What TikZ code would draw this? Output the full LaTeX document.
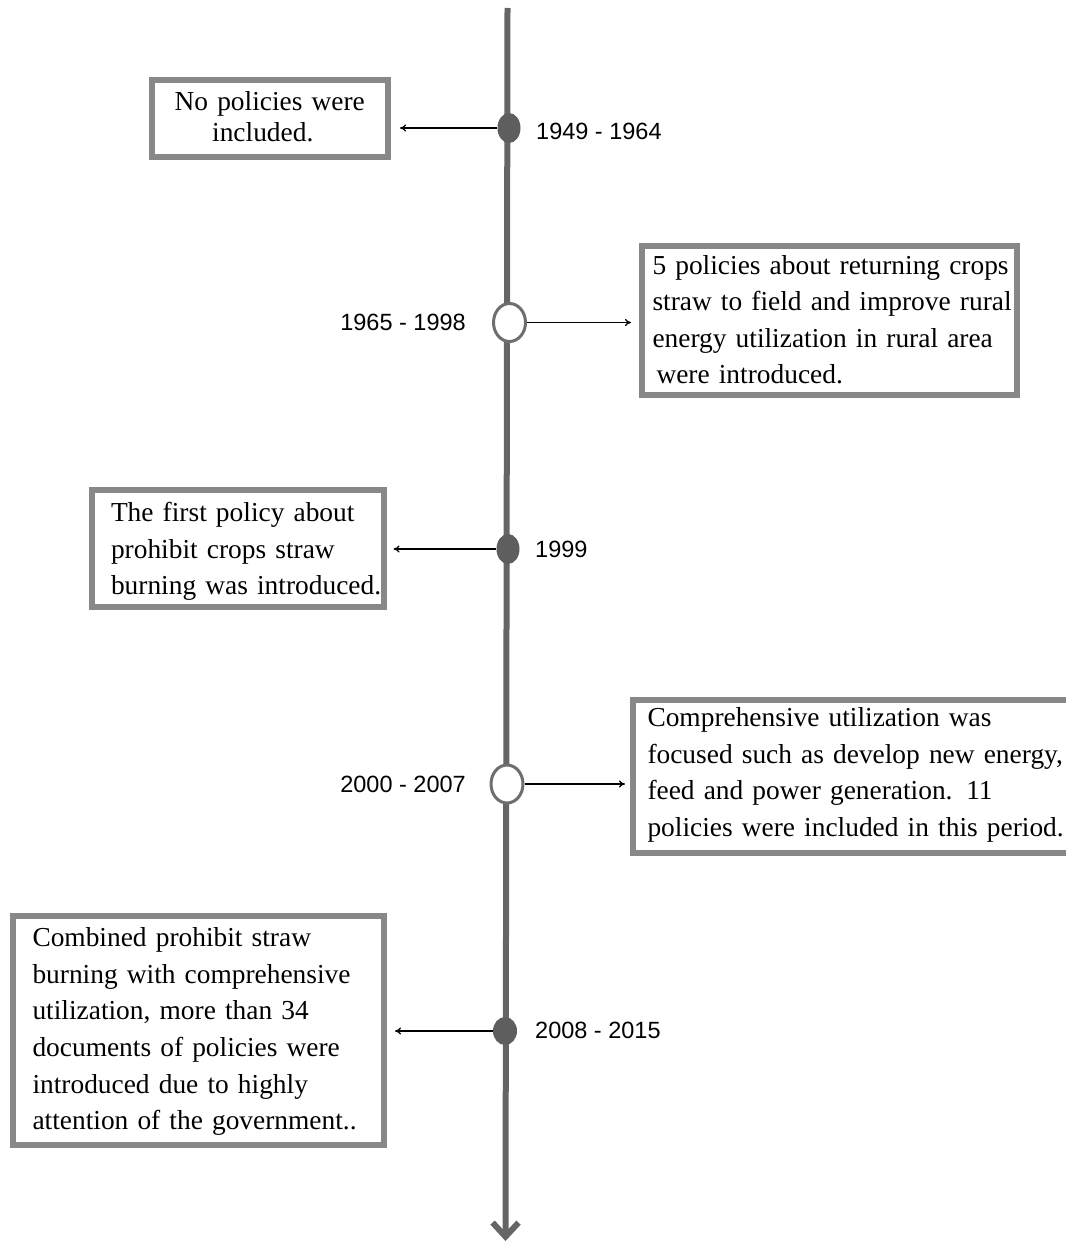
\documentclass[tikz,border=0pt]{standalone}
\usepackage{fontspec}
\setmainfont{Liberation Serif}
\newfontfamily\arialf{Liberation Sans}
\usetikzlibrary{shapes.geometric,arrows.meta}
\definecolor{axisgray}{HTML}{656565}
\definecolor{boxgray}{HTML}{888888}
\definecolor{dotgray}{HTML}{5E5E5E}
\definecolor{ringgray}{HTML}{6E6E6E}
\newcommand{\boxline}[1]{\mbox{#1}}
\newcommand{\toprule}[1]{\rule{0pt}{#1}}
\newcommand{\botrule}[1]{\rule[-#1]{0pt}{#1}}
\begin{document}
\begin{tikzpicture}[x=1pt,y=-1pt,
  infobox/.style={draw=boxgray, line width=6pt, fill=white, rectangle,
    inner ysep=0pt, align=left, font=\fontsize{27.4}{36.6}\selectfont},
  fulldot/.style={ellipse, fill=dotgray, draw=none, minimum width=23pt, minimum height=30pt, inner sep=0pt},
  ringdot/.style={ellipse, fill=white, draw=ringgray, line width=3pt, minimum width=32pt, minimum height=38pt, inner sep=0pt},
  yearlabel/.style={font=\arialf\fontsize{23.5}{27}\selectfont, inner sep=0pt},
  link/.style={line width=1.3pt, -{To[length=6pt,width=7pt]}}
]
\useasboundingbox (0,0) rectangle (1065,1244);

% axis
\coordinate (top) at (507.5,8);
\coordinate (bottom) at (505.5,1241);
\draw[axisgray, line width=6pt, -{Straight Barb[length=14pt,width=26pt]}] (top) -- (bottom);

% markers
\node[fulldot] (m1) at (509,128) {};
\node[ringdot] (m2) at (509.5,322.5) {};
\node[fulldot] (m3) at (508,549) {};
\node[ringdot] (m4) at (507,784) {};
\node[fulldot, minimum width=24pt, minimum height=28pt] (m5) at (505,1031) {};

% year labels
\node[yearlabel, anchor=west] (y1) at (536,131.5) {1949 - 1964};
\node[yearlabel, anchor=east] (y2) at (466,322) {1965 - 1998};
\node[yearlabel, anchor=west] (y3) at (535,549) {1999};
\node[yearlabel, anchor=east] (y4) at (466,784) {2000 - 2007};
\node[yearlabel, anchor=west] (y5) at (535,1030) {2008 - 2015};

% boxes
\node[infobox, align=center, font=\fontsize{27.4}{30}\selectfont,
  minimum width=236.5pt, minimum height=76.5pt, inner xsep=18.25pt, text width=200pt]
  (b1) at (269.75,118.25) {\toprule{24.5pt}\boxline{No policies were}\hspace*{14pt}\\
    \boxline{included.}\hspace*{14pt}\botrule{9pt}};
\node[infobox, minimum width=375pt, minimum height=149.5pt, inner xsep=11pt, text width=353pt]
  (b2) at (829,320.25) {\toprule{28.3pt}\boxline{5 policies about returning crops}\\
    \boxline{straw to field and improve rural}\\
    \boxline{energy utilization in rural area}\\
    \boxline{\hspace*{4pt}were introduced.}\botrule{11pt}};
\node[infobox, minimum width=292pt, minimum height=116.5pt, inner xsep=19.5pt, text width=253pt]
  (b3) at (237.5,548.25) {\toprule{31.1pt}\boxline{The first policy about}\\
    \boxline{prohibit crops straw}\\
    \boxline{burning was introduced.}\botrule{11pt}};
\node[infobox, minimum width=447pt, minimum height=153pt, inner xsep=14.5pt, text width=418pt]
  (b4) at (856.5,776.5) {\toprule{21.2pt}\boxline{Comprehensive utilization was}\\
    \boxline{focused such as develop new energy,}\\
    \boxline{feed and power generation. 11}\\
    \boxline{policies were included in this period.}\botrule{11pt}};
\node[infobox, minimum width=371pt, minimum height=229pt, inner xsep=20pt, text width=331pt]
  (b5) at (198,1030) {\toprule{27.4pt}\boxline{Combined prohibit straw}\\
    \boxline{burning with comprehensive}\\
    \boxline{utilization, more than 34}\\
    \boxline{documents of policies were}\\
    \boxline{introduced due to highly}\\
    \boxline{attention of the government..}\botrule{11pt}};

% connectors
\draw[link, shorten >=9pt] (m1.west) -- (m1.west -| b1.east);
\draw[link, shorten >=7.5pt] (m2.east) -- (m2.east -| b2.west);
\draw[link, shorten >=7pt] (m3.west) -- (m3.west -| b3.east);
\draw[link, shorten >=5pt] (m4.east) -- (m4.east -| b4.west);
\draw[link, shorten >=8.5pt] (m5.west) -- (m5.west -| b5.east);
\end{tikzpicture}
\end{document}
